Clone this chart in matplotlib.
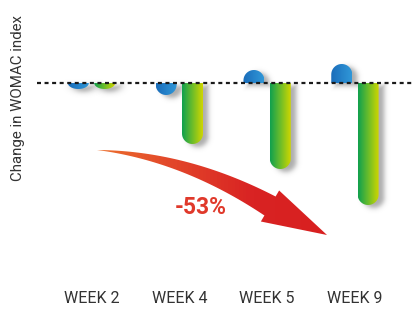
import numpy as np
import matplotlib
matplotlib.use('Agg')
import matplotlib.pyplot as plt
from matplotlib.path import Path
from matplotlib.patches import PathPatch
from matplotlib.colors import LinearSegmentedColormap

plt.rcParams['font.family'] = ['Roboto', 'DejaVu Sans']

# data (change in WOMAC index)
weeks = ['WEEK 2', 'WEEK 4', 'WEEK 5', 'WEEK 9']
blueValues = [-0.6, -1.2, 1.3, 1.9]
greenValues = [-0.6, -6.1, -8.6, -12.2]
reductionLabel = '-53%'

W, H = 413, 311
fig = plt.figure(figsize=(W / 100., H / 100.), dpi=100)
ax = fig.add_axes([37. / W, (H - 285.) / H, 375. / W, 265. / H])
xlim = (-0.621, 3.650)
ylim = (-20.2, 6.3)

barWidth = 0.239
offset = 0.15
halfW = barWidth / 2
pxPerX = 375. / (xlim[1] - xlim[0])
pxPerY = 265. / (ylim[1] - ylim[0])
# cap radius in y-units so that the rounded end looks circular
capR = halfW * pxPerX / pxPerY

blueMap = LinearSegmentedColormap.from_list('b', ['#1a6dba', '#3097d8'])
greenMap = LinearSegmentedColormap.from_list('g', ['#10a04e', '#6cbd2a', '#cfd600'])
grad = np.linspace(0, 1, 64).reshape(1, -1)


def capsule(cx, v):
    s = np.sign(v)
    r = min(capR, abs(v))
    yc = v - s * r
    th = np.linspace(np.pi, 2 * np.pi, 40)
    xs = cx + halfW * np.cos(th)
    ys = yc + s * (-r) * np.sin(th)
    verts = [(cx - halfW, 0)] + list(zip(xs, ys)) + [(cx + halfW, 0), (cx - halfW, 0)]
    codes = [Path.MOVETO] + [Path.LINETO] * (len(verts) - 2) + [Path.CLOSEPOLY]
    return Path(verts, codes)


def draw_shadow(cx, v, clipBelow, dx=5., dy=-3., blur=3., amax=0.33):
    # soft drop shadow computed on a pixel grid
    r = halfW * pxPerX
    vp = v * pxPerY
    s = np.sign(vp)
    pad = 22
    xs = np.arange(-r - pad, r + pad, 0.5)
    ys = np.arange(min(vp, 0) - pad, max(vp, 0) + pad, 0.5)
    X, Y = np.meshgrid(xs, ys)
    Xs, Ys = X - dx, Y - dy
    if abs(vp) > r:
        lo, hi = sorted([0, vp - s * r])
        d = np.sqrt(Xs ** 2 + (Ys - np.clip(Ys, lo, hi)) ** 2) - r
    else:
        a = max(abs(vp), 1.)
        d = (np.sqrt((Xs / r) ** 2 + (Ys / a) ** 2) - 1) * a
    d = np.maximum(d, -s * Ys)
    alpha = amax * 0.5 * (1 - np.tanh(d / blur))
    if clipBelow:
        alpha[Y > 0] = 0
    img = np.zeros(alpha.shape + (4,))
    img[..., 3] = alpha
    ax.imshow(img, origin='lower', aspect='auto', zorder=1, interpolation='bilinear',
              extent=[cx + xs[0] / pxPerX, cx + xs[-1] / pxPerX, ys[0] / pxPerY, ys[-1] / pxPerY])


def draw_bar(cx, v, cmap, clipBelow):
    draw_shadow(cx, v, clipBelow)
    patch = PathPatch(capsule(cx, v), facecolor='none', edgecolor='none', zorder=2)
    ax.add_patch(patch)
    im = ax.imshow(grad, cmap=cmap, aspect='auto', zorder=2,
                   extent=[cx - halfW, cx + halfW, min(v, 0), max(v, 0)])
    im.set_clip_path(patch)


for i in range(len(weeks)):
    draw_bar(i - offset, blueValues[i], blueMap, False)
    draw_bar(i + offset, greenValues[i], greenMap, True)

ax.set_xlim(*xlim)
ax.set_ylim(*ylim)
ax.axhline(0, color='#1a1a1a', lw=1.6, linestyle=(0, (1.8, 1.6)), zorder=5)

ax.set_xticks(range(len(weeks)))
ax.set_xticklabels(weeks, fontsize=11.5, color='#333333')
ax.tick_params(axis='x', length=0, pad=4.5)
ax.set_yticks([])
for sp in ax.spines.values():
    sp.set_visible(False)

fig.text(18. / W, 1 - 98. / H, 'Change in WOMAC index', rotation=90,
         ha='center', va='center', fontsize=10.8, color='#333333')

# curved arrow overlay (pixel coords)
ov = fig.add_axes([0, 0, 1, 1])
ov.axis('off')

P0 = np.array([97., 150.])
P1 = np.array([185., 156.])
P2 = np.array([270., 206.])
t = np.linspace(0, 1, 60)[:, None]
curve = (1 - t) ** 2 * P0 + 2 * (1 - t) * t * P1 + t ** 2 * P2
tang = 2 * (1 - t) * (P1 - P0) + 2 * t * (P2 - P1)
tang = tang / np.linalg.norm(tang, axis=1)[:, None]
norm = np.column_stack([-tang[:, 1], tang[:, 0]])
half = 11. * t
upper = curve - norm * half
lower = curve + norm * half
nEnd = norm[-1]
tip = np.array([327., 235.])
barbUp = P2 - 18 * nEnd
barbLo = P2 + 18 * nEnd
poly = np.vstack([upper, [barbUp], [tip], [barbLo], lower[::-1]])
arrowPatch = PathPatch(Path(poly), facecolor='none', edgecolor='none')
ov.add_patch(arrowPatch)
redMap = LinearSegmentedColormap.from_list('r', ['#ec6e2d', '#e2452a', '#d92323', '#d82020'])
aim = ov.imshow(grad, cmap=redMap, aspect='auto', extent=[97, 330, 240, 145], zorder=3)
aim.set_clip_path(arrowPatch)
ov.set_xlim(0, W)
ov.set_ylim(H, 0)

ov.text(201, 207, reductionLabel, ha='center', va='center', fontsize=16.5,
        fontweight='bold', color='#e0392b')

fig.savefig('out.png', dpi=100)
